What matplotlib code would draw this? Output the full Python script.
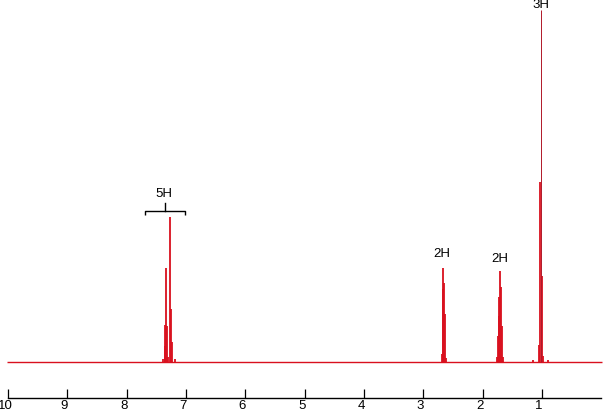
"""
1H NMR spectrum (stick/line rendering) with integration labels
"""

import matplotlib

matplotlib.use("Agg")
import matplotlib.pyplot as plt
from matplotlib.transforms import ScaledTranslation

# ── data: line positions (ppm) and intensities (arb. units) ─────────
arom_ppm = [7.387, 7.359, 7.349, 7.337, 7.320, 7.303, 7.264, 7.253, 7.236, 7.185]
arom_int = [3, 16, 37, 94, 36, 5, 145, 53, 20, 3]

ch2a_ppm = [2.685, 2.673, 2.663, 2.651, 2.629, 2.618]
ch2a_int = [8, 73, 94, 79, 48, 4]

ch2b_ppm = [1.758, 1.746, 1.729, 1.719, 1.702, 1.691, 1.674, 1.657]
ch2b_int = [5, 26, 46, 65, 91, 75, 36, 5]

ch3_ppm = [1.156, 1.044, 1.028, 0.999, 0.982, 0.892]
ch3_int = [2, 17, 180, 86, 6, 2]
ch3_top_ppm = 1.011
ch3_top_int = 352

# integration labels: text, ppm, y
int_labels = ["5H", "2H", "2H", "3H"]
int_label_ppm = [7.371, 2.685, 1.707, 1.025]
int_label_y = [163, 103, 98, 352]

# bracket over the aromatic group
bracket_ppm = (7.686, 7.012)

ticks = [10, 9, 8, 7, 6, 5, 4, 3, 2, 1]

RED = "#D9101E"
plt.rcParams["font.family"] = ["Liberation Sans", "DejaVu Sans"]

fig = plt.figure(figsize=(6.08, 4.10), dpi=100)
ax = fig.add_axes([0, 0, 1, 1])
ax.set_xlim(10.135, -0.113)
ax.set_ylim(-47, 363)

# baseline
ax.hlines(0, 10.017, -0.017, color=RED, linewidth=1.0)

# peak lines
for ppm, inten in [
    (arom_ppm, arom_int),
    (ch2a_ppm, ch2a_int),
    (ch2b_ppm, ch2b_int),
    (ch3_ppm, ch3_int),
]:
    ax.vlines(ppm, 0, inten, color=RED, linewidth=1.3)
ax.vlines(ch3_top_ppm, 0, ch3_top_int, color="#B01828", linewidth=0.7)

# integration labels
for txt, x, y in zip(int_labels, int_label_ppm, int_label_y):
    ax.text(x, y, txt, ha="center", va="bottom", fontsize=9.5, color="black")

# bracket
b_mid = sum(bracket_ppm) / 2
ax.plot(
    [bracket_ppm[0], bracket_ppm[0], bracket_ppm[1], bracket_ppm[1]],
    [147, 151.5, 151.5, 147],
    color="black",
    linewidth=1.0,
    solid_capstyle="butt",
)
ax.plot([b_mid, b_mid], [151.5, 159], color="black", linewidth=1.0)

# ppm scale
for s in ["top", "left", "right"]:
    ax.spines[s].set_visible(False)
ax.spines["bottom"].set_position(("data", -36.3))
ax.spines["bottom"].set_bounds(10, 0)
ax.spines["bottom"].set_linewidth(1.0)
ax.set_yticks([])
ax.set_xticks(ticks)
ax.set_xticklabels([str(t) for t in ticks])
ax.tick_params(
    axis="x", direction="in", length=6.5, width=0.9, pad=0.5, labelsize=9.5
)
shift = ScaledTranslation(-0.03, 0, fig.dpi_scale_trans)
for lbl in ax.get_xticklabels():
    lbl.set_transform(lbl.get_transform() + shift)

fig.savefig("out.png", dpi=100)
